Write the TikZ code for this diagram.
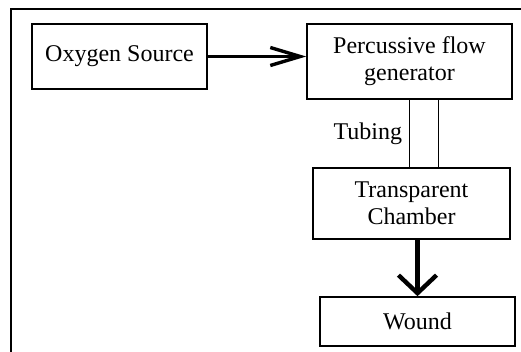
\documentclass[tikz,border=0pt]{standalone}
\usepackage{fontspec}
\setmainfont{Liberation Serif}
\usepackage{tikz}
\usetikzlibrary{arrows.meta, positioning, calc}

\tikzset{
  blockbox/.style={draw, line width=0.8pt, align=center, inner sep=2pt, font=\fontsize{12}{13.5}\selectfont},
  feedarrow/.style={line width=1.7pt, -{Straight Barb[length=15pt, width=9pt, line width=1.7pt]}},
  dropflow/.style={line width=2.2pt, -{Straight Barb[length=9pt, width=19pt, line width=2.2pt]}}
}

\begin{document}
\begin{tikzpicture}[x=0.5pt, y=-0.5pt]
      \path[use as bounding box, clip] (0,0) rectangle (521,352);
      % outer frame (cut at right and bottom)
      \draw[line width=1pt] (11,9) rectangle (540,370);
      \node[blockbox, minimum width=87.5pt, minimum height=32.5pt] (src) at (119.5,56.5) {Oxygen Source};
      \node[blockbox, minimum width=102.5pt, minimum height=37.5pt] (gen) at (409.5,61.5) {Percussive flow\\generator};
      \node[blockbox, minimum width=98.5pt, minimum height=35.5pt] (chamber) at (411.5,203.5) {Transparent\\Chamber};
      \node[blockbox, minimum width=97.5pt, minimum height=24.5pt] (wound) at (417.5,321.5) {Wound};
      \draw[feedarrow] (src.east) -- (src.east -| gen.west);
      \draw[line width=0.8pt] (gen.south) -- (gen.south |- chamber.north) node[midway, left, font=\fontsize{12}{13.5}\selectfont] {Tubing};
      \draw[line width=0.8pt] ([xshift=14.5pt]gen.south) -- ([xshift=14.5pt]gen.south |- chamber.north);
      \draw[dropflow] (wound.north |- chamber.south) -- (wound.north);
    \end{tikzpicture}
\end{document}
